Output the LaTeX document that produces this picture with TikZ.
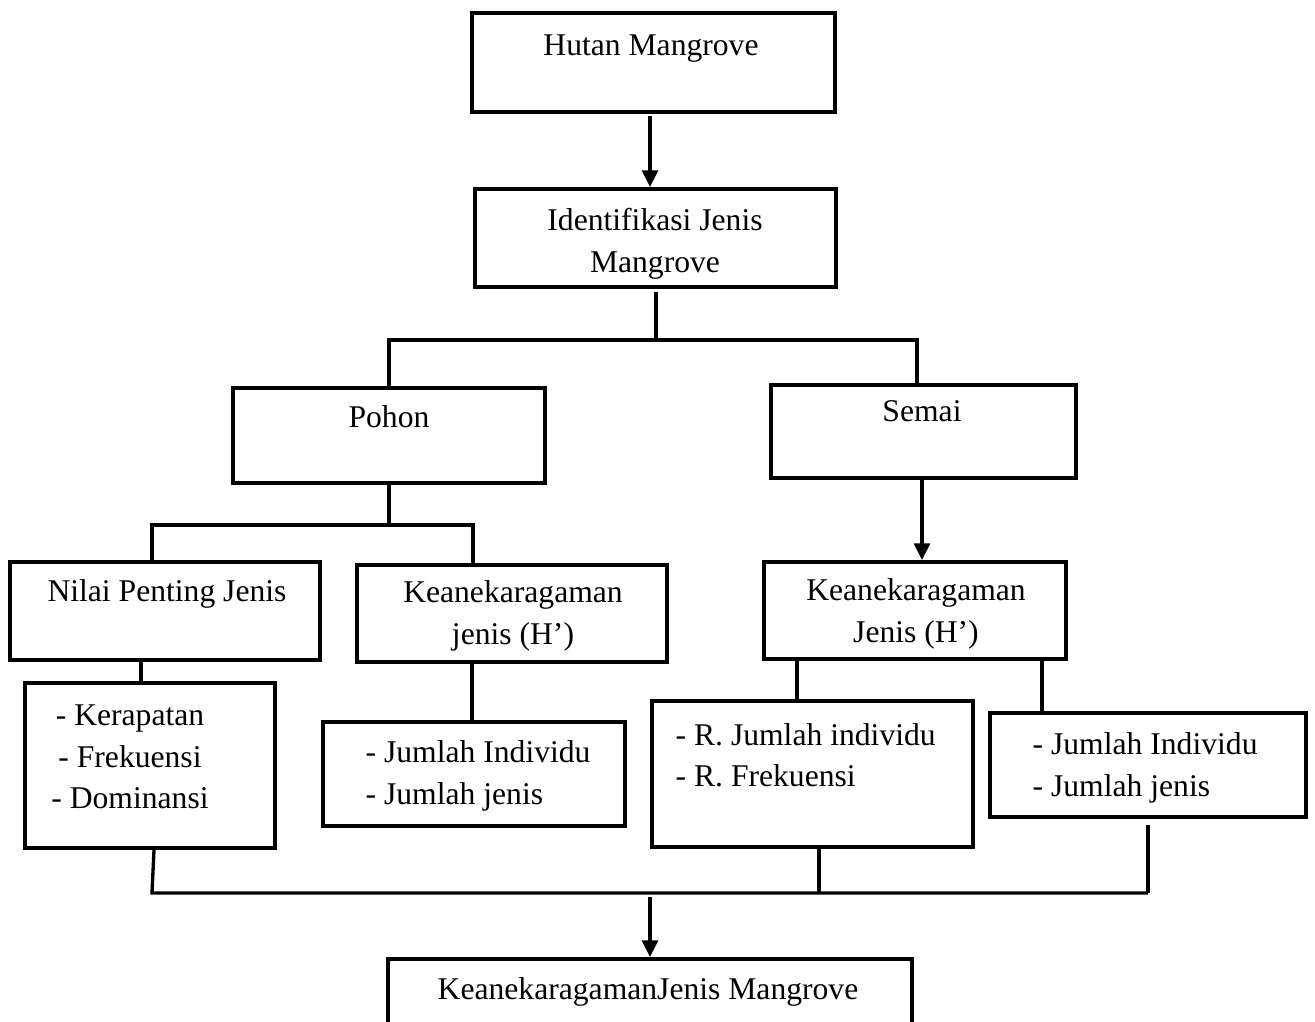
\documentclass[tikz,border=0pt]{standalone}
\usepackage{fontspec}
\setmainfont{Liberation Serif}
\usetikzlibrary{arrows.meta, fit}

\begin{document}
\begin{tikzpicture}[x=0.02cm, y=-0.02cm, >={Triangle[length=9.5pt, width=9pt]}, line width=1.9pt,
    kotak/.style={draw, line width=2.2pt, inner sep=0pt},
    teks/.style={font=\fontsize{18}{23.5}\selectfont, inner sep=0pt, align=center},
    kiri/.style={teks, align=left, anchor=west}]
    \clip (0,0) rectangle (1315,1021);
    % kotak
    \node[kotak, fit={(472,13) (835,112)}] (hutan) {};
    \node[kotak, fit={(475,189) (836,287)}] (identifikasi) {};
    \node[kotak, fit={(233,388) (545,483)}] (pohon) {};
    \node[kotak, fit={(771,385) (1076,478)}] (semai) {};
    \node[kotak, fit={(10,562) (320,660)}] (nilai) {};
    \node[kotak, fit={(357,565) (667,662)}] (kjpohon) {};
    \node[kotak, fit={(764,562) (1066,659)}] (kjsemai) {};
    \node[kotak, fit={(25,683) (275,848)}] (kerapatan) {};
    \node[kotak, fit={(323,722) (625,826)}] (jumlahpohon) {};
    \node[kotak, fit={(652,701) (973,847)}] (relatif) {};
    \node[kotak, fit={(990,713) (1306,817)}] (jumlahsemai) {};
    \node[kotak, fit={(388,959) (912,1060)}] (hasil) {};
    % teks
    \node[teks, anchor=base] (hutanT) at (651,55) {Hutan Mangrove};
    \node[teks, anchor=base] (identifikasiT) at (655,272) {Identifikasi Jenis\\Mangrove};
    \node[teks] (pohonT) at (389,417) {Pohon};
    \node[teks] (semaiT) at (922,411) {Semai};
    \node[teks] (nilaiT) at (167,594) {Nilai Penting Jenis};
    \node[teks] (kjpohonT) at (513,616) {Keanekaragaman\\jenis (H’)};
    \node[teks] (kjsemaiT) at (916,614) {Keanekaragaman\\Jenis (H’)};
    \node[teks] (kerapatanT) at (130,757) {- Kerapatan\\- Frekuensi\\- Dominansi};
    \node[kiri] (jumlahpohonT) at (364,776) {- Jumlah Individu\\- Jumlah jenis};
    \node[kiri] (relatifT) at (674,755) {- R. Jumlah individu\\- R. Frekuensi};
    \node[kiri] (jumlahsemaiT) at (1031,768) {- Jumlah Individu\\- Jumlah jenis};
    \node[teks] (hasilT) at (648,992) {KeanekaragamanJenis Mangrove};
    % titik cabang
    \coordinate (atas) at (650,116);
    \coordinate (identgaris) at (656,292);
    \coordinate (cabang1) at (656,340);
    \coordinate (cabang1kiri) at (389,340);
    \coordinate (cabang1kanan) at (917,340);
    \coordinate (cabang2) at (389,525);
    \coordinate (cabang2kiri) at (152,525);
    \coordinate (cabang2kanan) at (473,525);
    \coordinate (semaipanah) at (922,478);
    \coordinate (nilaigaris) at (141,660);
    \coordinate (kjpohongaris) at (472,662);
    \coordinate (kjsemaikiri) at (797,659);
    \coordinate (kjsemaikanan) at (1042,659);
    \coordinate (bawahkiri) at (152,893);
    \coordinate (bawahtengah) at (819,893);
    \coordinate (bawahkanan) at (1148,893);
    \coordinate (gabung) at (650,897);
    % garis
    \draw[->] (atas) -- (atas |- identifikasi.north);
    \draw (identgaris) -- (cabang1);
    \draw (cabang1kiri |- pohon.north) -- (cabang1kiri) -- (cabang1kanan) -- (cabang1kanan |- semai.north);
    \draw (pohon.south) -- (cabang2);
    \draw (cabang2kiri |- nilai.north) -- (cabang2kiri) -- (cabang2kanan) -- (cabang2kanan |- kjpohon.north);
    \draw[->] (semaipanah) -- (semaipanah |- kjsemai.north);
    \draw (nilaigaris) -- (nilaigaris |- kerapatan.north);
    \draw (kjpohongaris) -- (kjpohongaris |- jumlahpohon.north);
    \draw (kjsemaikiri) -- (kjsemaikiri |- relatif.north);
    \draw (kjsemaikanan) -- (kjsemaikanan |- jumlahsemai.north);
    \draw ([xshift=0.08cm]kerapatan.south) -- (bawahkiri) -- (bawahkanan);
    \draw (bawahtengah |- relatif.south) -- (bawahtengah);
    \draw[line width=2.8pt] ([yshift=-0.12cm]jumlahsemai.south) -- (bawahkanan);
    \draw[->] (gabung) -- (gabung |- hasil.north);
\end{tikzpicture}
\end{document}
